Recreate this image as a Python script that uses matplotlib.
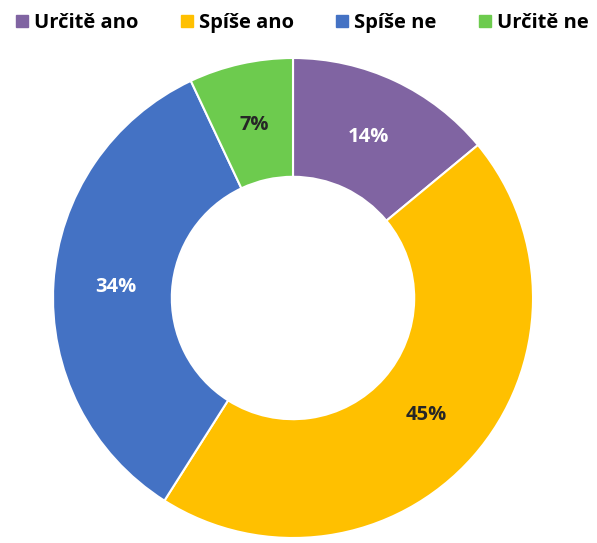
import matplotlib.pyplot as plt
from matplotlib.lines import Line2D
import numpy as np

# answers and shares (%)
labels = ["Určitě ano", "Spíše ano", "Spíše ne", "Určitě ne"]
values = [14, 45, 34, 7]
colors = ["#8064A2", "#FFC000", "#4472C4", "#6DCB4E"]
text_colors = ["white", "#262626", "white", "#262626"]

plt.rcParams['font.family'] = ['Open Sans', 'DejaVu Sans']

fig = plt.figure(figsize=(5.97, 5.43), dpi=100)
ax = fig.add_axes([0.0888, 0.0092, 0.804, 0.884])

ax.pie(values, colors=colors, startangle=90, counterclock=False,
       radius=1.0, wedgeprops=dict(width=0.495, edgecolor="white", linewidth=1.5))

ang = 90.0
for v, tc in zip(values, text_colors):
    mid = ang - v * 360 / 100 / 2
    ang -= v * 360 / 100
    r = 0.74
    ax.text(r * np.cos(np.radians(mid)), r * np.sin(np.radians(mid)), f"{v}%",
            ha="center", va="center", fontsize=14.5, fontweight="bold", color=tc)
ax.set_xlim(-1, 1)
ax.set_ylim(-1, 1)
ax.set_aspect("equal")

handles = [Line2D([0], [0], marker="s", linestyle="none", markersize=9,
                  markerfacecolor=c, markeredgecolor=c) for c in colors]
fig.legend(handles, labels, loc="center", bbox_to_anchor=(0.503, 0.958), ncol=4,
           frameon=False, prop=dict(size=14.5, weight="bold"), handletextpad=0.1,
           columnspacing=1.9, handlelength=1.0, borderaxespad=0)

fig.savefig("out.png", dpi=100)
